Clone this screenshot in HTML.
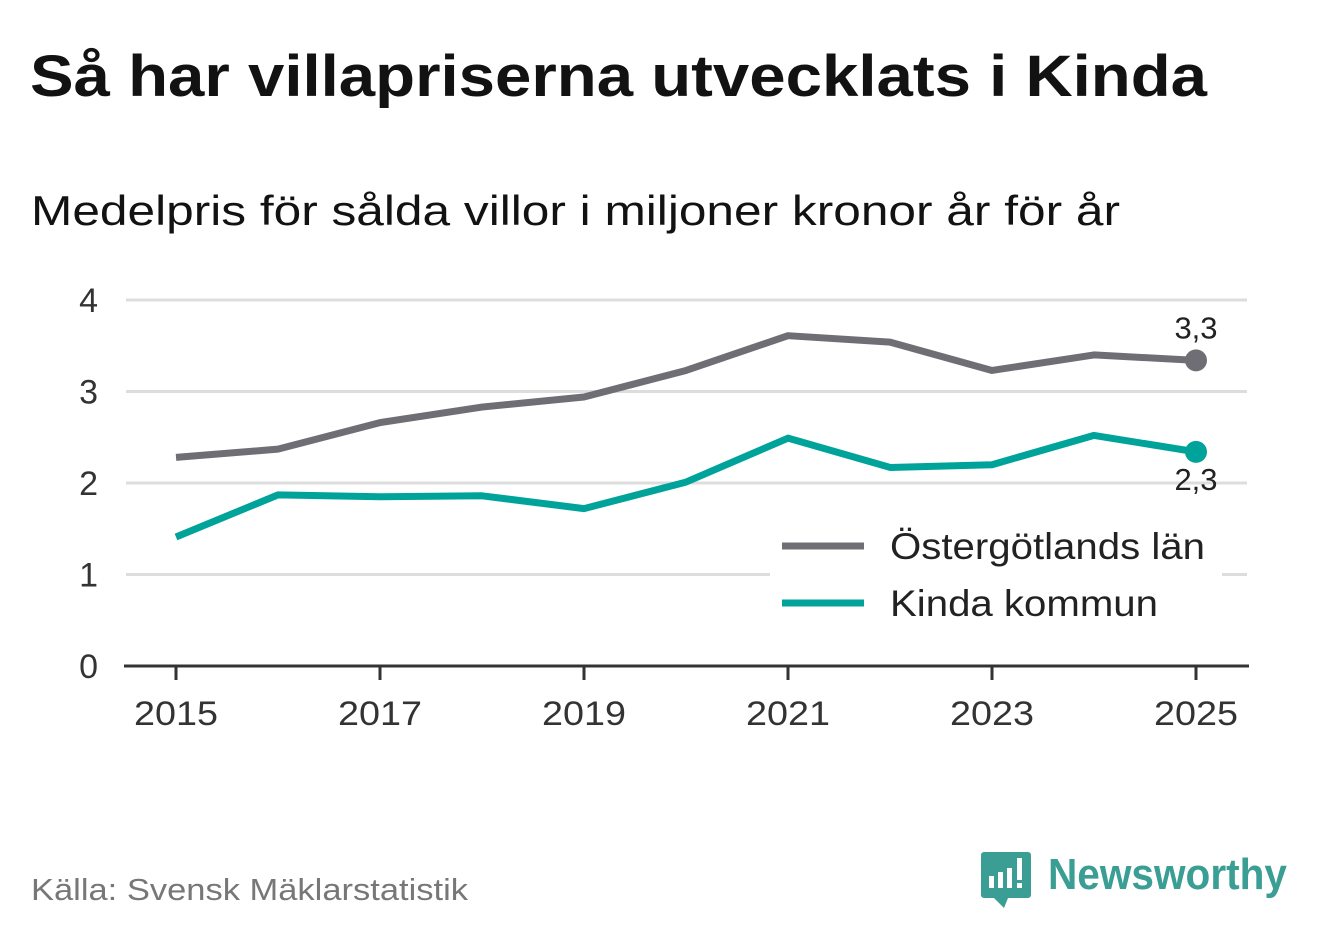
<!DOCTYPE html>
<html><head><meta charset="utf-8"><style>
body{margin:0;width:1322px;height:939px;background:#fff;font-family:"Liberation Sans","DejaVu Sans",sans-serif;overflow:hidden}
svg{position:absolute;left:0;top:0}
</style></head><body>
<svg width="1322" height="939" id="chart">
<text x="30" y="96" font-size="58" font-weight="bold" fill="#121212" textLength="1177" lengthAdjust="spacingAndGlyphs">Så har villapriserna utvecklats i Kinda</text>
<text x="31" y="225" font-size="42" fill="#121212" textLength="1089" lengthAdjust="spacingAndGlyphs">Medelpris för sålda villor i miljoner kronor år för år</text>
<g id="grid"></g><g id="lines"></g>
<g>
<rect x="770" y="520" width="452" height="112" fill="#fff"/>
<line x1="782" y1="546" x2="864" y2="546" stroke="#6f6e74" stroke-width="7"/>
<text x="890" y="559" font-size="37" fill="#222" textLength="315" lengthAdjust="spacingAndGlyphs">Östergötlands län</text>
<line x1="782" y1="603" x2="864" y2="603" stroke="#00a39a" stroke-width="7"/>
<text x="890" y="616" font-size="37" fill="#222" textLength="268" lengthAdjust="spacingAndGlyphs">Kinda kommun</text>
</g>
<text x="31" y="900" font-size="31" fill="#777" textLength="437" lengthAdjust="spacingAndGlyphs">Källa: Svensk Mäklarstatistik</text>
<g>
<path d="M984 852 h44 a3 3 0 0 1 3 3 v40 a3 3 0 0 1 -3 3 h-20 l-4 10 l-10 -10 h-10 a3 3 0 0 1 -3 -3 v-40 a3 3 0 0 1 3 -3z" fill="#3a9e94"/>
<rect x="989" y="876" width="5" height="12" fill="#fff"/><rect x="998" y="872" width="5" height="16" fill="#fff"/><rect x="1007" y="868" width="5" height="20" fill="#fff"/><rect x="1017" y="858" width="5" height="22" fill="#fff"/><rect x="1017" y="883" width="5" height="5" fill="#fff"/>
<text x="1048" y="889" font-size="44" font-weight="bold" fill="#3a9e94" textLength="239" lengthAdjust="spacingAndGlyphs">Newsworthy</text>
</g>
</svg>
<script>
const years=[2015,2016,2017,2018,2019,2020,2021,2022,2023,2024,2025];
const ostergotland=[2.28,2.37,2.66,2.83,2.94,3.23,3.61,3.54,3.23,3.40,3.34];
const kinda=[1.41,1.87,1.85,1.86,1.72,2.01,2.49,2.17,2.20,2.52,2.34];
const yTicks=[0,1,2,3,4];
const xTicks=[2015,2017,2019,2021,2023,2025];
const X=y=>176+(y-2015)*102, Y=v=>666-v*91.5;
const NS="http://www.w3.org/2000/svg";
function mk(tag,attrs,parent){const e=document.createElementNS(NS,tag);for(const k in attrs)e.setAttribute(k,attrs[k]);parent.appendChild(e);return e;}
const grid=document.getElementById('grid'),lines=document.getElementById('lines');
yTicks.forEach(t=>{
 if(t>0){const l=mk('line',{x1:126,x2:1247,y1:Y(t),y2:Y(t),stroke:'#ddd','stroke-width':3},grid);
 
 }
 const tx=mk('text',{x:98,y:Y(t)+12,'font-size':34,fill:'#333','text-anchor':'end'},grid);tx.textContent=t;
 
 
});
const ax=mk('line',{x1:124,x2:1249,y1:666,y2:666,stroke:'#333','stroke-width':3},grid);


xTicks.forEach(t=>{
 mk('line',{x1:X(t),x2:X(t),y1:666,y2:680,stroke:'#333','stroke-width':3},grid);
 const tx=mk('text',{x:X(t),y:725,'font-size':34,fill:'#333','text-anchor':'middle',textLength:84,lengthAdjust:'spacingAndGlyphs'},grid);tx.textContent=t;
 
 
});
function series(vals,color,name,labelDy){
 const p=mk('polyline',{points:vals.map((v,i)=>X(years[i])+','+Y(v)).join(' '),fill:'none',stroke:color,'stroke-width':7,'stroke-linejoin':'round'},lines);
 
 
 const n=vals.length-1;
 const c=mk('circle',{cx:X(years[n]),cy:Y(vals[n]),r:11,fill:color},lines);
 
 
 const t=mk('text',{x:X(years[n]),y:Y(vals[n])+labelDy,'font-size':31,fill:'#222','text-anchor':'middle'},lines);
 t.textContent=vals[n].toFixed(1).replace('.',',');
 
 
}
series(ostergotland,'#6f6e74','ostergotland',-22);
series(kinda,'#00a39a','kinda',38);
</script>
</body></html>
